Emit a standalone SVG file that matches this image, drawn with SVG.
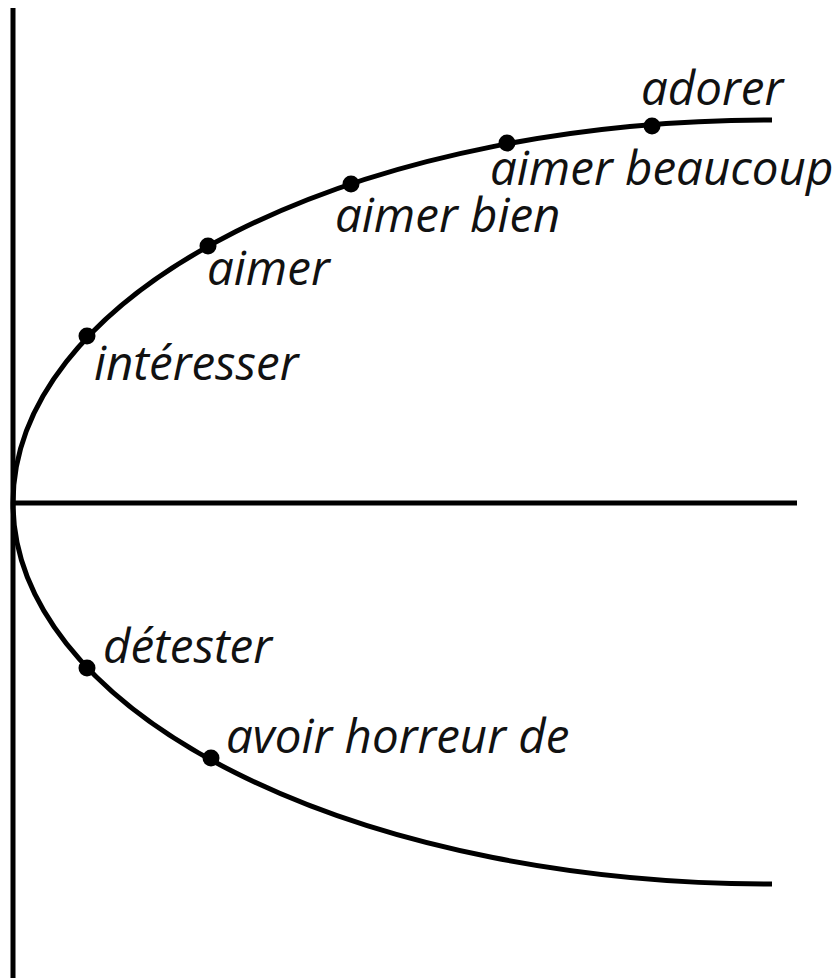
<svg xmlns="http://www.w3.org/2000/svg" width="839" height="978" viewBox="0 0 839 978">
<style>
.ax{stroke:#000;stroke-width:5;fill:none}
.cv{stroke:#000;stroke-width:5;fill:none}
.dot{fill:#000}
.lbl{font-family:"Open Sans","Liberation Sans",sans-serif;font-style:italic;font-size:47.5px;fill:#111}
</style>
<rect width="839" height="978" fill="#fff"/>
<g id="connectors">
<line class="ax" x1="13" y1="8" x2="13" y2="978"/>
<line class="ax" x1="11" y1="503" x2="797" y2="503"/>
<path class="cv" d="M13,503 A757,383 0 0 1 772,120"/>
<path class="cv" d="M13,503 A757,381 0 0 0 772,884"/>
</g>
<g id="n-interesser"><circle class="dot" cx="87" cy="336" r="8.5"/><text class="lbl" x="94" y="380">intéresser</text></g>
<g id="n-aimer"><circle class="dot" cx="208" cy="246" r="8.5"/><text class="lbl" x="207" y="285">aimer</text></g>
<g id="n-aimer-bien"><circle class="dot" cx="351" cy="184" r="8.5"/><text class="lbl" x="335" y="232">aimer bien</text></g>
<g id="n-aimer-beaucoup"><circle class="dot" cx="507" cy="143" r="8.5"/><text class="lbl" x="490" y="185">aimer beaucoup</text></g>
<g id="n-adorer"><circle class="dot" cx="652" cy="126" r="8.5"/><text class="lbl" x="641" y="105">adorer</text></g>
<g id="n-detester"><circle class="dot" cx="87" cy="668" r="8.5"/><text class="lbl" x="103" y="663">détester</text></g>
<g id="n-avoir-horreur"><circle class="dot" cx="211" cy="758" r="8.5"/><text class="lbl" x="226" y="753">avoir horreur de</text></g>
</svg>
